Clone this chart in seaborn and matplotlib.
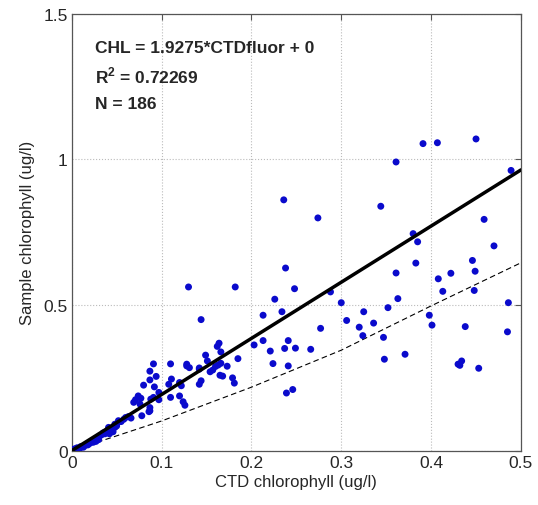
import numpy as np
import pandas as pd
import matplotlib
matplotlib.use("Agg")
import matplotlib.pyplot as plt
import seaborn as sns

sns.set_style("white")
plt.rcParams["font.family"] = ["Liberation Sans", "DejaVu Sans"]
plt.rcParams["mathtext.fontset"] = "custom"
plt.rcParams["mathtext.rm"] = "Liberation Sans"
plt.rcParams["mathtext.bf"] = "Liberation Sans:bold"

# CTD fluorometer vs bottle chlorophyll
ctd_chl = [
    # high / right group
    0.236, 0.391, 0.407, 0.450, 0.361, 0.489, 0.344, 0.274, 0.459, 0.380,
    0.385, 0.470, 0.238, 0.383, 0.446, 0.449, 0.361, 0.422, 0.408, 0.248,
    0.288, 0.413, 0.448, 0.363, 0.300, 0.486, 0.234, 0.325, 0.352, 0.398,
    0.306, 0.320, 0.336, 0.401, 0.438, 0.277, 0.324, 0.347, 0.485, 0.241,
    0.237, 0.249, 0.266, 0.371, 0.348, 0.241, 0.430, 0.434, 0.432, 0.453,
    0.239, 0.246,
    # middle group
    0.130, 0.182, 0.144, 0.226, 0.213, 0.203, 0.213, 0.221, 0.224, 0.164,
    0.162, 0.166, 0.149, 0.151, 0.185, 0.128, 0.131, 0.142, 0.110, 0.091,
    0.087, 0.094, 0.087, 0.080, 0.154, 0.157, 0.163, 0.166, 0.173, 0.165,
    0.168, 0.179, 0.181, 0.111, 0.108, 0.120, 0.122, 0.144, 0.142, 0.092,
    0.097, 0.091, 0.088, 0.110, 0.120, 0.124, 0.126, 0.077, 0.078, 0.087,
    0.128, 0.142, 0.160, 0.097, 0.087, 0.074, 0.071, 0.069, 0.076, 0.086,
    # low group near the origin
    0.060, 0.052, 0.048, 0.044, 0.043, 0.039, 0.035, 0.031, 0.028, 0.024,
    0.018, 0.013, 0.009, 0.003, 0.000, 0.046, 0.030, 0.041, 0.033, 0.048,
    0.052, 0.001, 0.002, 0.005, 0.004, 0.006, 0.010, 0.015, 0.020, 0.022,
    0.025, 0.027, 0.037, 0.040, 0.042, 0.050, 0.055, 0.058, 0.063, 0.066,
]
sample_chl = [
    0.861, 1.054, 1.057, 1.070, 0.991, 0.962, 0.839, 0.799, 0.794, 0.745,
    0.717, 0.703, 0.627, 0.644, 0.653, 0.616, 0.610, 0.609, 0.590, 0.556,
    0.545, 0.547, 0.550, 0.522, 0.508, 0.508, 0.477, 0.477, 0.491, 0.465,
    0.447, 0.424, 0.438, 0.431, 0.426, 0.420, 0.395, 0.389, 0.408, 0.378,
    0.351, 0.352, 0.348, 0.331, 0.314, 0.291, 0.297, 0.308, 0.293, 0.283,
    0.198, 0.210,
    0.562, 0.562, 0.450, 0.520, 0.465, 0.363, 0.378, 0.342, 0.299, 0.369,
    0.358, 0.339, 0.328, 0.308, 0.316, 0.297, 0.285, 0.280, 0.298, 0.298,
    0.273, 0.255, 0.243, 0.225, 0.271, 0.277, 0.294, 0.300, 0.290, 0.259,
    0.256, 0.250, 0.232, 0.246, 0.228, 0.234, 0.223, 0.240, 0.228, 0.219,
    0.200, 0.183, 0.177, 0.183, 0.188, 0.168, 0.156, 0.180, 0.120, 0.137,
    0.291, 0.284, 0.289, 0.175, 0.148, 0.188, 0.175, 0.166, 0.160, 0.134,
    0.114, 0.103, 0.091, 0.077, 0.068, 0.063, 0.061, 0.051, 0.040, 0.029,
    0.020, 0.012, 0.008, 0.006, 0.003, 0.065, 0.038, 0.080, 0.054, 0.080,
    0.099, 0.002, 0.004, 0.007, 0.003, 0.010, 0.014, 0.018, 0.025, 0.030,
    0.035, 0.032, 0.058, 0.070, 0.058, 0.085, 0.100, 0.108, 0.117, 0.112,
]

# regression line through the origin
slope = 1.9275
fit_x = [0.0, 0.5]
# dashed reference curve
ref_x = [0.0, 0.1, 0.2, 0.3, 0.4, 0.5]
ref_y = [0.0, 0.102, 0.218, 0.345, 0.497, 0.645]

x_ticks = [0, 0.1, 0.2, 0.3, 0.4, 0.5]
x_ticklabels = ["0", "0.1", "0.2", "0.3", "0.4", "0.5"]
y_ticks = [0, 0.5, 1, 1.5]
y_ticklabels = ["0", "0.5", "1", "1.5"]

df = pd.DataFrame({"ctd": ctd_chl, "sample": sample_chl})
df_fit = pd.DataFrame({"x": fit_x, "y": [slope * v for v in fit_x]})
df_ref = pd.DataFrame({"x": ref_x, "y": ref_y})

fig = plt.figure(figsize=(5.38, 5.06), dpi=100)
ax = fig.add_axes([0.1333, 0.1073, 0.835, 0.8637])

sns.lineplot(data=df_ref, x="x", y="y", ax=ax, color="black",
             linestyle=(0, (5, 3)), linewidth=0.8)
sns.scatterplot(data=df, x="ctd", y="sample", ax=ax, color="#0a0acc",
                s=25, edgecolor="none", zorder=3)
sns.lineplot(data=df_fit, x="x", y="y", ax=ax, color="black",
             linewidth=2.5, zorder=4)

ax.set_xlim(0, 0.5)
ax.set_ylim(0, 1.5)
ax.set_xticks(x_ticks)
ax.set_xticklabels(x_ticklabels)
ax.set_yticks(y_ticks)
ax.set_yticklabels(y_ticklabels)
ax.tick_params(direction="in", top=True, right=True, labelsize=12.5,
               length=4, color="#555555", pad=3)
ax.grid(True, linestyle=":", color="#bbbbbb", linewidth=0.8)
for sp in ax.spines.values():
    sp.set_color("#555555")
    sp.set_linewidth(0.9)

ax.set_xlabel("CTD chlorophyll (ug/l)", fontsize=12, labelpad=3)
ax.set_ylabel("Sample chlorophyll (ug/l)", fontsize=12, labelpad=6)

ax.text(0.026, 1.369, "CHL = 1.9275*CTDfluor + 0", fontsize=12.5,
        fontweight="bold", va="baseline")
ax.text(0.026, 1.263, r"R$^\mathbf{2}$ = 0.72269", fontsize=12.5,
        fontweight="bold", va="baseline")
ax.text(0.026, 1.177, "N = 186", fontsize=12.5, fontweight="bold",
        va="baseline")

plt.savefig("out.png", dpi=100)
